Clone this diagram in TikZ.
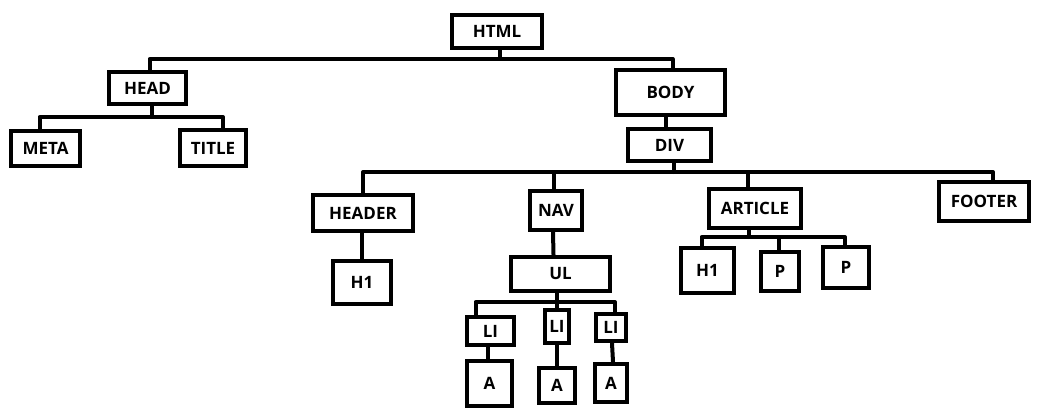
\documentclass[tikz,border=0pt]{standalone}
\usepackage{fontspec}
\setmainfont{Open Sans}
\usetikzlibrary{positioning,calc}

\begin{document}
\begin{tikzpicture}[x=1pt, y=-1pt, font=\fontsize{17}{19}\selectfont\bfseries,
  tag/.style={draw=black, line width=4.5pt, fill=white, inner sep=0pt, minimum width=#1},
  link/.style={line width=4pt, draw=black, line cap=round, line join=round}]
\useasboundingbox (0,0) rectangle (1052,420);
% boxes, placed at the pixel centres of the sketch
\node[tag=90pt, minimum height=33pt] (html) at (497,31.5) {HTML};
\node[tag=77pt, minimum height=32pt] (head) at (147.5,88) {HEAD};
\node[tag=69pt, minimum height=35pt] (meta) at (45.5,148.5) {META};
\node[tag=66pt, minimum height=36pt] (title) at (213,148) {TITLE};
\node[tag=109pt, minimum height=45pt] (body) at (670.5,92.5) {BODY};
\node[tag=83pt, minimum height=32pt] (div) at (669.5,145) {DIV};
\node[tag=100pt, minimum height=36pt] (header) at (363,213) {HEADER};
\node[tag=58pt, minimum height=43pt] (hone) at (362,282.5) {H1};
\node[tag=52pt, minimum height=39pt] (nav) at (556,210.5) {NAV};
\node[tag=99pt, minimum height=34pt] (ul) at (560.5,274) {UL};
\node[tag=47pt, minimum height=28pt] (lione) at (490.5,331) {LI};
\node[tag=24pt, minimum height=33pt] (litwo) at (557,326.5) {LI};
\node[tag=30pt, minimum height=27pt] (lithree) at (611,327.5) {LI};
\node[tag=45pt, minimum height=45pt] (aone) at (489.5,383.5) {A};
\node[tag=36pt, minimum height=35pt] (atwo) at (557,385.5) {A};
\node[tag=32pt, minimum height=38pt] (athree) at (611,383) {A};
\node[tag=92pt, minimum height=39pt] (article) at (755,208.5) {ARTICLE};
\node[tag=53pt, minimum height=45pt] (htwo) at (707.5,270.5) {H1};
\node[tag=38pt, minimum height=39pt] (pone) at (780,271.5) {P};
\node[tag=46pt, minimum height=41pt] (ptwo) at (846,267.5) {P};
\node[tag=90pt, minimum height=39pt] (footer) at (984,201.5) {FOOTER};
% junctions of the branch lines
\coordinate (jhtml) at (500,59);
\coordinate (jhead) at (152,117);
\coordinate (jdiv) at (674,172);
\coordinate (jul) at (557,302);
\coordinate (jarticle) at (749,237);
% connectors
\draw[link] (html.south -| jhtml) -- (jhtml);
\draw[link] ([xshift=2pt]head.north) |- (jhtml) -| ([xshift=2pt]body.north);
\draw[link] (head.south -| jhead) -- (jhead);
\draw[link] ([xshift=-6pt]meta.north) |- (jhead) -| ([xshift=10pt]title.north);
\draw[link] ([xshift=-5pt]body.south) -- ([xshift=-4pt]div.north);
\draw[link] (div.south -| jdiv) -- (jdiv);
\draw[link] (header.north) |- (jdiv) -| ([xshift=9pt]footer.north);
\draw[link] ([xshift=-2pt]nav.north) -- ([xshift=-2pt]nav.north |- jdiv);
\draw[link] ([xshift=-7pt]article.north) -- ([xshift=-7pt]article.north |- jdiv);
\draw[link] ([xshift=-1pt]header.south) -- (hone.north);
\draw[link] ([xshift=-3pt]nav.south) -- ([xshift=-7pt]ul.north);
\draw[link] (ul.south -| jul) -- (jul);
\draw[link] ([xshift=-15pt]lione.north) |- (jul) -| ([xshift=4pt]lithree.north);
\draw[link] (litwo.north) -- (jul);
\draw[link] ([xshift=-3pt]lione.south) -- ([xshift=-2pt]aone.north);
\draw[link] (litwo.south) -- (atwo.north);
\draw[link] ([xshift=1pt]lithree.south) -- ([xshift=2pt]athree.north);
\draw[link] (article.south -| jarticle) -- (jarticle);
\draw[link] ([xshift=-6pt]htwo.north) |- (jarticle) -| ([xshift=-1pt]ptwo.north);
\draw[link] ([xshift=-1pt]pone.north) -- ([xshift=-1pt]pone.north |- jarticle);
\end{tikzpicture}
\end{document}
